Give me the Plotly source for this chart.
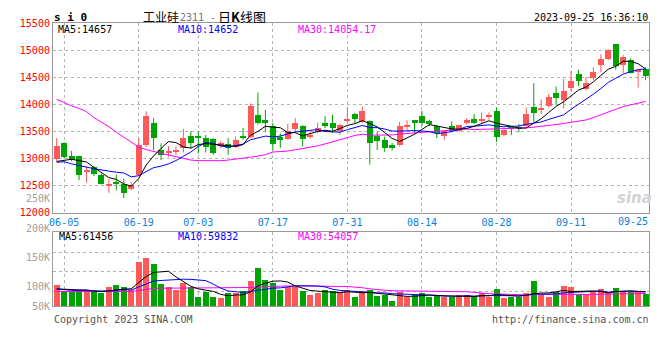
import plotly.graph_objects as go

# ---------------- data ----------------
dates = ["06-02", "06-05", "06-06", "06-07", "06-08", "06-09", "06-12", "06-13", "06-14", "06-15",
         "06-16", "06-19", "06-20", "06-21", "06-26", "06-27", "06-28", "06-29", "06-30", "07-03",
         "07-04", "07-05", "07-06", "07-07", "07-10", "07-11", "07-12", "07-13", "07-14", "07-17",
         "07-18", "07-19", "07-20", "07-21", "07-24", "07-25", "07-26", "07-27", "07-28", "07-31",
         "08-01", "08-02", "08-03", "08-04", "08-07", "08-08", "08-09", "08-10", "08-11", "08-14",
         "08-15", "08-16", "08-17", "08-18", "08-21", "08-22", "08-23", "08-24", "08-25", "08-28",
         "08-29", "08-30", "08-31", "09-01", "09-04", "09-05", "09-06", "09-07", "09-08", "09-11",
         "09-12", "09-13", "09-14", "09-15", "09-18", "09-19", "09-20", "09-21", "09-22", "09-25"]

opens = [12990, 13285, 13035, 13035, 12755, 12845, 12690, 12500, 12570, 12530,
         12440, 12700, 13250, 13645, 13160, 13115, 13130, 13200, 13410, 13410,
         13370, 13355, 13230, 13260, 13215, 13410, 13395, 13805, 13700, 13600,
         13395, 13365, 13540, 13600, 13395, 13480, 13645, 13645, 13500, 13690,
         13810, 13680, 13695, 13410, 13345, 13250, 13250, 13595, 13700, 13785,
         13685, 13590, 13410, 13590, 13500, 13655, 13725, 13700, 13760, 13875,
         13425, 13575, 13585, 13605, 13945, 13900, 13965, 14215, 14075, 14305,
         14550, 14275, 14480, 14720, 14840, 15105, 14730, 14820, 14595, 14645]
highs = [13380, 13305, 13145, 13055, 12865, 12870, 12725, 12620, 12710, 12630,
         12570, 13380, 13875, 13750, 13285, 13230, 13230, 13550, 13510, 13500,
         13440, 13380, 13330, 13380, 13410, 13570, 14020, 14225, 13905, 13665,
         13470, 13645, 13750, 13620, 13530, 13665, 13785, 13810, 13645, 13945,
         13845, 13965, 13710, 13500, 13410, 13290, 13680, 13710, 13715, 13885,
         13720, 13620, 13510, 13690, 13630, 13750, 13825, 13855, 13855, 13945,
         13540, 13590, 13645, 13945, 14395, 14095, 14195, 14335, 14480, 14620,
         14645, 14510, 14690, 14930, 15020, 15120, 14915, 14855, 14630, 14690]
lows = [12950, 13000, 12950, 12605, 12560, 12680, 12525, 12370, 12415, 12275,
        12415, 12680, 13215, 13155, 12975, 13035, 13070, 13115, 13190, 13095,
        13115, 13070, 13200, 13070, 13200, 13350, 13380, 13630, 13500, 13155,
        13200, 13350, 13510, 13230, 13370, 13470, 13560, 13480, 13440, 13650,
        13650, 13665, 12895, 13160, 13130, 13155, 13230, 13530, 13470, 13605,
        13605, 13380, 13350, 13490, 13490, 13630, 13645, 13650, 13725, 13310,
        13410, 13440, 13490, 13595, 13680, 13825, 13945, 13990, 13930, 14245,
        14345, 14260, 14450, 14600, 14820, 14645, 14585, 14570, 14315, 14450]
closes = [13230, 13025, 12975, 12700, 12775, 12715, 12535, 12535, 12535, 12355,
          12500, 13245, 13775, 13380, 13055, 13130, 13155, 13370, 13275, 13380,
          13215, 13095, 13290, 13200, 13340, 13380, 13965, 13645, 13665, 13260,
          13335, 13500, 13650, 13365, 13440, 13565, 13605, 13560, 13625, 13725,
          13725, 13880, 13290, 13320, 13200, 13185, 13600, 13625, 13650, 13645,
          13630, 13470, 13500, 13510, 13620, 13700, 13660, 13725, 13800, 13400,
          13520, 13550, 13550, 13825, 13840, 13930, 14125, 14115, 14245, 14425,
          14435, 14395, 14600, 14840, 15000, 14700, 14870, 14585, 14620, 14525]
volumes = [88000, 64000, 57000, 68000, 68000, 61000, 54000, 77000, 88000, 81000,
           68000, 185000, 202000, 174000, 93000, 81000, 68000, 97000, 81000, 39000,
           57000, 39000, 35000, 53000, 53000, 61000, 104000, 157000, 108000, 97000,
           66000, 81000, 77000, 61000, 47000, 53000, 68000, 61000, 57000, 68000,
           39000, 61000, 66000, 43000, 47000, 19000, 60000, 39000, 47000, 53000,
           39000, 47000, 36000, 36000, 47000, 47000, 39000, 53000, 36000, 72000,
           35000, 36000, 36000, 55000, 104000, 47000, 39000, 60000, 84000, 80000,
           50000, 47000, 61000, 72000, 53000, 76000, 60000, 60000, 64000, 50000]

# moving-average values for the first days (their windows start before the chart)
ma5_head = [12950, 12965, 12990, 12965]
ma10_head = [12935, 12945, 12905, 12870, 12845, 12815, 12790, 12765, 12750]
ma30_head = [14100, 14030, 13975, 13930, 13870, 13760, 13680, 13590, 13490, 13400,
             13300, 13215, 13170, 13130, 13100, 13070, 13035, 13000, 12975, 12965,
             12962, 12962, 12964, 12975, 12990, 13010, 13030, 13050, 13075]
vma5_head = [73000, 71000, 70000, 69000]
vma10_head = [73000, 69000, 67000, 66000, 65000, 64000, 63000, 64000, 66000]
vma30_head = [62000, 62000, 62000, 62000, 61000, 61000, 61000, 61000, 62000, 62000,
              62000, 66000, 71000, 75000, 76000, 77000, 77000, 77000, 77000, 77000,
              77000, 77000, 77000, 77000, 77000, 77000, 79000, 81000, 83000]

price_ticks = [12000, 12500, 13000, 13500, 14000, 14500, 15000, 15500]
date_ticks = ["06-05", "06-19", "07-03", "07-17", "07-31", "08-14", "08-28", "09-11"]
last_date_tick = "09-25"
ma_labels = ["MA5:14657", "MA10:14652", "MA30:14054.17"]
vma_labels = ["MA5:61456", "MA10:59832", "MA30:54057"]
vol_labels = ["250K", "200K", "150K", "100K", "50K"]

# ---------------- helpers ----------------
W, H = 660, 360
def px(x):
    return x / W
def py(y):
    return 1 - y / H

def moving_avg(vals, n, head):
    out = list(head)
    for i in range(n - 1, len(vals)):
        out.append(sum(vals[i - n + 1:i + 1]) / n)
    return out

RED = "#ff5858"
GREEN = "#00a300"
MONO = "DejaVu Sans Mono"
CJK = "Noto Sans CJK SC"
GRID = "#b4b4b4"
FRAME = "#9a9a9a"

n = len(dates)
idx = list(range(n))
is_up = [c >= o for o, c in zip(opens, closes)]
colors = [RED if u else GREEN for u in is_up]
min_body = 18
body_base = [min(o, c) for o, c in zip(opens, closes)]
body_h = [max(abs(c - o), min_body) for o, c in zip(opens, closes)]

ma5 = moving_avg(closes, 5, ma5_head)
ma10 = moving_avg(closes, 10, ma10_head)
ma30 = moving_avg(closes, 30, ma30_head)
vma5 = moving_avg(volumes, 5, vma5_head)
vma10 = moving_avg(volumes, 10, vma10_head)
vma30 = moving_avg(volumes, 30, vma30_head)

fig = go.Figure()

# wicks
for up_flag, col in [(True, RED), (False, GREEN)]:
    wx, wy = [], []
    for i in idx:
        if is_up[i] == up_flag:
            wx += [i, i, None]
            wy += [lows[i], highs[i], None]
    fig.add_trace(go.Scatter(x=wx, y=wy, mode="lines", line=dict(color=col, width=1),
                             hoverinfo="skip", xaxis="x", yaxis="y"))

# bodies
fig.add_trace(go.Bar(x=idx, y=body_h, base=body_base, width=0.8,
                     marker=dict(color=colors, line=dict(width=0)),
                     xaxis="x", yaxis="y"))

# price MAs
for vals, col in [(ma30, "#ff00ff"), (ma10, "#0000ff"), (ma5, "#000000")]:
    fig.add_trace(go.Scatter(x=idx, y=vals, mode="lines", line=dict(color=col, width=1),
                             xaxis="x", yaxis="y"))

# volume bars
fig.add_trace(go.Bar(x=idx, y=volumes, width=0.8,
                     marker=dict(color=colors, line=dict(width=0)),
                     xaxis="x2", yaxis="y2"))
for vals, col in [(vma30, "#ff00ff"), (vma10, "#0000ff"), (vma5, "#000000")]:
    fig.add_trace(go.Scatter(x=idx, y=vals, mode="lines", line=dict(color=col, width=1),
                             xaxis="x2", yaxis="y2"))

tick_idx = [dates.index(d) for d in date_ticks]

x_dom = [px(49.25), px(649.25)]
axis_common = dict(showline=True, linecolor=FRAME, linewidth=1, mirror=True,
                   zeroline=False, showgrid=True, gridcolor=GRID, griddash="dot",
                   gridwidth=1, ticks="", fixedrange=True)

fig.update_layout(
    width=W, height=H, margin=dict(l=0, r=0, t=0, b=0),
    paper_bgcolor="white", plot_bgcolor="white", showlegend=False,
    bargap=0, barmode="overlay",
    xaxis=dict(domain=x_dom, range=[-0.5, n - 0.5], anchor="y",
               tickmode="array", tickvals=tick_idx, ticktext=date_ticks,
               tickfont=dict(family=MONO, size=10, color="#0a80e0"),
               **axis_common),
    yaxis=dict(domain=[py(214), py(18)], range=[12000, 15500], anchor="x",
               tickmode="array", tickvals=price_ticks,
               ticktext=[str(v) for v in price_ticks],
               tickfont=dict(family=MONO, size=10, color="#ff0000"),
               **axis_common),
    xaxis2=dict(domain=x_dom, range=[-0.5, n - 0.5], anchor="y2",
                tickmode="array", tickvals=tick_idx, showticklabels=False,
                **axis_common),
    yaxis2=dict(domain=[py(310.7), py(234.3)], range=[0, 309300], anchor="x2",
                tickmode="array", tickvals=[63600, 144500, 225500], showticklabels=False,
                **axis_common),
)

ann = []
def text(x, y, s, color="#000", size=10, family=MONO, xanchor="left", **kw):
    ann.append(dict(x=px(x), y=py(y), xref="paper", yref="paper", text=s, showarrow=False,
                    xanchor=xanchor, yanchor="middle", borderpad=0,
                    font=dict(family=family, size=size, color=color), **kw))

# header
text(49, 12, "<b>s i 0</b>", size=11)
text(139, 10.5, "工业硅", family=CJK, size=12, height=14)
text(176, 12, "2311 -", color="#777777")
text(214, 10.5, "日<b>K</b>线图", family=CJK, size=13, height=14)
text(649, 12, "2023-09-25 16:36:10", xanchor="right")

# MA labels
for x0, s, col in zip([53, 174, 295], ma_labels, ["#000000", "#0000ff", "#ff00ff"]):
    text(x0, 24, s, color=col)
for x0, s, col in zip([54, 174, 295], vma_labels, ["#000000", "#0000ff", "#ff00ff"]):
    text(x0, 238, s, color=col)

# last date label
text(649, 222.5, last_date_tick, color="#0a80e0", xanchor="right")

# volume axis labels (grey)
for y0, s in zip([199.5, 230, 260, 290.3, 310.7], vol_labels):
    text(47, y0, s, color="#a0a0a0", xanchor="right")

# footer
text(49, 324, "Copyright 2023 SINA.COM", color="#555555")
text(650, 324, "http://finance.sina.com.cn", color="#555555", xanchor="right")

# watermark
text(634, 199, "<b><i>sina</i></b>", color="#d2d2d2", size=15, family="DejaVu Sans", xanchor="center")

fig.update_layout(annotations=ann)
fig.write_html("out.html", config={"displayModeBar": False},
               post_script="document.body.style.margin='0';document.body.style.padding='0';")
